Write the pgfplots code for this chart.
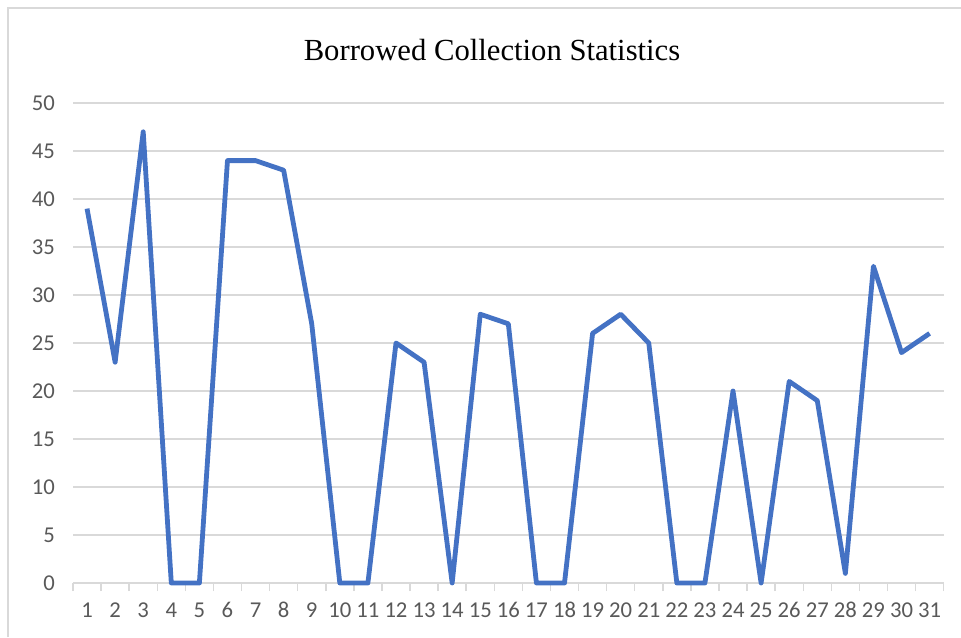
\documentclass[border=0pt]{standalone}
\usepackage{pgfplots}
\pgfplotsset{compat=1.18}
\usepackage{fontspec}
\setmainfont{Carlito}
\newfontfamily\titlefont{Liberation Serif}
\definecolor{lineblue}{HTML}{4472C4}
\definecolor{gridgray}{HTML}{D9D9D9}
\definecolor{labelgray}{HTML}{595959}

\pgfplotstableread{
day count
1 39
2 23
3 47
4 0
5 0
6 44
7 44
8 43
9 27
10 0
11 0
12 25
13 23
14 0
15 28
16 27
17 0
18 0
19 26
20 28
21 25
22 0
23 0
24 20
25 0
26 21
27 19
28 1
29 33
30 24
31 26
}\borrowed

\begin{document}
\begin{tikzpicture}
\useasboundingbox (0,0) rectangle (720.75pt,477.75pt);
% chart frame (left and top edges visible)
\draw[gridgray, line width=1.2pt] (6pt,0) -- (6pt,471.75pt) -- (720.75pt,471.75pt);
\node[font=\titlefont\fontsize{23}{26}\selectfont, anchor=base] at (369pt,432pt) {Borrowed Collection Statistics};
\begin{axis}[
  at={(54.75pt,40.5pt)}, anchor=origin,
  scale only axis,
  width=653pt, height=360pt,
  xmin=0.5, xmax=31.5,
  ymin=0, ymax=50,
  xtick={1,...,31},
  minor xtick={0.5,1.5,...,31.5},
  ytick={0,5,...,50},
  major tick length=0pt,
  minor tick length=6pt,
  tick align=outside,
  minor x tick style={gridgray, line width=1.1pt},
  axis x line*=bottom,
  axis y line*=left,
  y axis line style={draw=none},
  x axis line style={gridgray, line width=1.1pt},
  ymajorgrids,
  grid style={gridgray, line width=1.1pt},
  ticklabel style={font=\fontsize{17}{20}\selectfont, text=labelgray},
  /pgf/number format/assume math mode=true,
  xticklabel style={yshift=-10pt, text height=12pt, text depth=0pt},
  yticklabel style={xshift=-10pt},
  clip=false,
]
\addplot[lineblue, line width=3.6pt, line join=round] table[x=day, y=count] {\borrowed};
\end{axis}
\end{tikzpicture}
\end{document}
